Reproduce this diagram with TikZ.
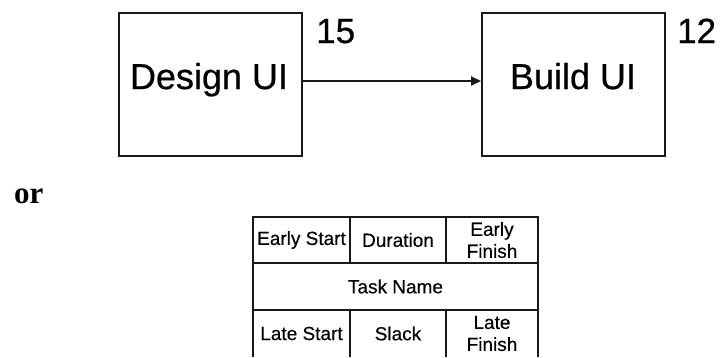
\documentclass[tikz,border=0pt]{standalone}
\usepackage{fontspec}
\setmainfont{Liberation Sans}[FakeBold=0.6]
\newfontfamily\orfont{Liberation Serif}
\usetikzlibrary{arrows.meta}

\tikzset{
  taskbox/.style={draw=black!90, line width=2pt, minimum width=183pt,
                  minimum height=143pt, inner sep=0pt},
  boxlabel/.style={anchor=base, inner sep=0pt,
                   font=\addfontfeature{FakeBold=0.6}\fontsize{36}{40}\selectfont},
  durlabel/.style={anchor=base west, inner sep=0pt,
                   font=\addfontfeature{FakeBold=0.6}\fontsize{35}{40}\selectfont},
  link/.style={draw=black!90, line width=2pt,
               -{Triangle[length=10pt,width=9pt]}},
  grid/.style={draw=black!90, line width=2pt},
  cell/.style={inner sep=0pt, align=center,
               font=\addfontfeature{FakeBold=0.4}\fontsize{19}{22}\selectfont}
}

\begin{document}
\begin{tikzpicture}[x=1pt, y=-1pt]
  \useasboundingbox (0,0) rectangle (720,357);

  % two tasks joined by a dependency arrow
  \node[taskbox] (design) at (210.5,84.5) {};
  \node[taskbox] (build)  at (573.5,84.5) {};
  \node[boxlabel] (designtxt) at (209,89) {Design UI};
  \node[boxlabel] (buildtxt)  at (573,89) {Build UI};
  \node[durlabel] (d15) at (316,43) {15};
  \node[durlabel] (d12) at (677,43) {12};
  \draw[link] ([yshift=3.5pt]design.east) -- ([yshift=3.5pt]build.west);

  % alternative notation
  \node[anchor=base west, inner sep=0pt,
        font=\orfont\bfseries\fontsize{31}{34}\selectfont] (ortxt) at (14,203) {or};

  % activity-on-node grid
  \draw[grid] (253,357) -- (253,217) -- (538,217) -- (538,357);
  \draw[grid] (253,263) -- (538,263);
  \draw[grid] (253,310) -- (538,310);
  \draw[grid] (350,217) -- (350,263);
  \draw[grid] (446,217) -- (446,263);
  \draw[grid] (350,310) -- (350,357);
  \draw[grid] (446,310) -- (446,357);

  \node[cell] (es)   at (301.5,240) {Early Start};
  \node[cell] (dur)  at (398,240)   {Duration};
  \node[cell] (ef)   at (492,240)   {Early\\Finish};
  \node[cell] (name) at (395.5,286.5) {Task Name};
  \node[cell] (ls)   at (301.5,333.5) {Late Start};
  \node[cell] (sl)   at (398,333.5) {Slack};
  \node[cell] (lf)   at (492,333.5) {Late\\Finish};
\end{tikzpicture}
\end{document}
